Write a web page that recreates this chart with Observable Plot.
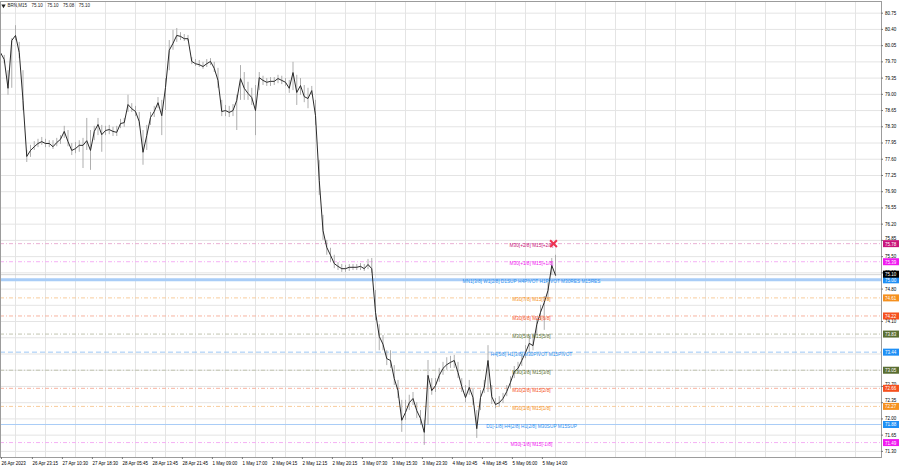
<!DOCTYPE html>
<html><head><meta charset="utf-8">
<script src="https://cdn.jsdelivr.net/npm/d3@7"></script>
<script src="https://cdn.jsdelivr.net/npm/@observablehq/plot@0.6"></script>
<style>
html,body{margin:0;padding:0;background:#fff;}
#chart{width:900px;height:468px;overflow:hidden;}
svg{display:block;}
</style>
</head><body><div id="chart"></div>
<script>
// ---------------- DATA ----------------
const symbol = "BRN,M15";
const lastQuote = ["75.10", "75.10", "75.08", "75.10"];
const lastPrice = 75.10;
const barsPerSample = 4; // each sample aggregates 4 M15 bars

const closes = [79.90,79.75,79.13,80.16,80.27,79.90,78.87,77.66,77.79,77.87,
77.94,77.98,77.94,77.94,77.87,77.96,78.03,78.20,77.98,77.79,
77.83,77.90,77.90,78.00,77.79,78.20,78.35,78.13,78.22,78.24,
78.20,78.18,78.37,78.39,78.78,78.69,78.63,78.41,77.75,78.11,
78.50,78.63,78.82,78.54,79.15,79.95,80.10,80.27,80.25,80.20,
80.20,79.71,79.66,79.64,79.60,79.66,79.71,79.56,79.30,78.63,
78.65,78.61,78.65,78.87,79.34,79.13,79.02,78.93,78.65,79.36,
79.30,79.26,79.28,79.28,79.34,79.30,79.26,79.13,79.47,79.04,
79.19,78.95,78.91,79.08,78.54,77.14,76.06,75.70,75.53,75.35,
75.29,75.24,75.24,75.27,75.27,75.27,75.29,75.24,75.33,75.24,
74.30,73.78,73.61,73.30,73.26,72.87,72.61,71.97,72.14,72.35,
72.44,72.18,72.01,71.71,72.94,72.61,72.72,72.94,73.09,73.17,
73.22,73.26,73.00,72.70,72.46,72.68,72.46,71.79,72.46,72.68,
73.26,72.48,72.31,72.35,72.44,72.59,72.79,73.02,73.09,73.26,
73.43,73.63,73.58,74.03,74.30,74.51,74.77,75.31,75.10];

const highs = [79.99,79.84,79.51,80.20,80.48,80.12,79.51,77.79,77.90,77.98,
78.03,78.07,78.03,78.00,78.00,78.05,78.11,78.31,78.22,77.94,
77.96,78.00,78.05,78.48,78.22,78.31,78.48,78.33,78.31,78.33,
78.29,78.31,78.46,78.48,78.98,78.80,78.74,78.61,78.22,78.33,
78.61,78.74,78.93,78.87,79.34,80.16,80.38,80.42,80.33,80.29,
80.27,79.79,79.75,79.73,79.69,79.75,79.77,79.69,79.56,78.87,
78.76,78.74,78.78,78.98,79.62,79.47,79.26,79.13,79.19,79.47,
79.39,79.34,79.36,79.36,79.41,79.39,79.34,79.30,79.69,79.41,
79.34,79.19,79.13,79.17,78.87,77.57,76.39,75.85,75.68,75.53,
75.37,75.33,75.31,75.33,75.33,75.33,75.35,75.33,75.44,75.46,
74.77,74.03,73.80,73.47,73.47,73.15,72.83,72.40,72.40,72.51,
72.57,72.35,72.18,71.97,73.26,72.87,72.87,73.09,73.22,73.32,
73.35,73.37,73.22,72.87,72.72,72.83,72.66,72.18,72.61,72.83,
73.58,72.72,72.44,72.48,72.55,72.72,72.91,73.13,73.22,73.39,
73.58,73.78,73.80,74.17,74.45,74.64,74.94,75.46,75.53];

const lows = [79.77,79.66,78.98,79.13,80.16,79.77,78.65,77.53,77.64,77.79,
77.85,77.90,77.85,77.85,77.81,77.87,77.92,78.05,77.87,77.68,
77.72,77.75,77.40,77.79,77.36,78.00,78.11,77.75,78.11,78.13,
78.09,78.09,78.26,78.29,78.61,78.61,78.52,78.31,77.47,77.79,
78.33,78.50,78.69,78.11,78.65,79.51,79.95,80.12,80.16,80.14,
80.14,79.64,79.60,79.58,79.54,79.58,79.62,79.47,79.13,78.52,
78.52,78.50,78.52,78.22,78.87,78.87,78.87,78.76,78.11,79.08,
79.19,79.17,79.17,79.19,79.23,79.21,79.17,79.02,79.08,78.76,
78.98,78.82,78.69,78.98,78.33,76.82,75.85,75.53,75.37,75.24,
75.20,75.16,75.16,75.18,75.20,75.20,75.20,75.18,75.22,75.14,
74.12,73.47,73.47,73.15,73.09,72.72,72.44,71.71,71.97,72.18,
72.29,72.01,71.86,71.43,71.86,72.51,72.57,72.79,72.94,73.05,
73.09,73.09,72.87,72.57,72.35,72.51,72.29,71.58,72.18,72.55,
72.57,72.31,72.22,72.25,72.33,72.48,72.66,72.87,72.98,73.13,
73.30,73.43,73.47,73.80,74.12,73.91,74.55,75.10,75.07];

const timeTickBars = [1,34,66,98,130,162,194,226,258,290,322,354,386,418,450,482,514,546,578];
const timeTickLabels = ["26 Apr 2023","26 Apr 23:15","27 Apr 10:30","27 Apr 18:30","28 Apr 05:45",
  "28 Apr 13:45","28 Apr 21:45","1 May 09:00","1 May 17:00","2 May 04:15","2 May 12:15",
  "2 May 20:15","3 May 07:30","3 May 15:30","3 May 23:30","4 May 10:45","4 May 18:45",
  "5 May 06:00","5 May 14:00"];
const gridBars = [16,48,80,112,144,176,208,240,272,304,336,368,400,432,464,496,528,560,592,624,656,688,720,752,784,816,848,880,912];

const priceGrid = [80.75,80.40,80.05,79.70,79.35,79.00,78.65,78.30,77.95,77.60,77.25,76.90,
  76.55,76.20,75.85,75.50,75.15,74.80,74.45,74.10,73.75,73.40,73.05,72.70,72.35,72.00,71.65,71.30];
const priceLabels = [80.75,80.40,80.05,79.70,79.35,79.00,78.65,78.30,77.95,77.60,77.25,76.90,
  76.55,76.20,75.85,75.50,75.15,74.80,74.10,72.70,72.35,72.00,71.65,71.30];

const levels = [75.78,75.39,75.00,74.61,74.22,73.83,73.44,73.05,72.66,72.27,71.88,71.49];
const levelOctaves = ["+2/8","+1/8","8/8","7/8","6/8","5/8","4/8","3/8","2/8","1/8","0/8","-1/8"];
const levelTexts = ["M30[+2/8] M15[+2/8]","M30[+1/8] M15[+1/8]",
  "MN1[3/8] W1[2/8] D1SUP H4PIVOT H1PIVOT M30RES M15RES",
  "M30[7/8] M15[7/8]","M30[6/8] M15[6/8]","M30[5/8] M15[5/8]",
  "H4[5/8] H1[3/8] M30PIVOT M15PIVOT",
  "M30[3/8] M15[3/8]","M30[2/8] M15[2/8]","M30[1/8] M15[1/8]",
  "D1[-1/8] H4[2/8] H1[2/8] M30SUP M15SUP","M30[-1/8] M15[-1/8]"];

// ---------------- STYLE ----------------
const STYLE = {
  "+2/8": {text: "#c8157a", line: "#eab0d4", box: "#c8157a", kind: "dashdot"},
  "+1/8": {text: "#f019f0", line: "#f5b0f5", box: "#f019f0", kind: "dashdot"},
  "8/8":  {text: "#2b8ff0", line: "#a9cdf7", box: "#1e8ff5", kind: "thick"},
  "7/8":  {text: "#f5901e", line: "#f8cc9c", box: "#f5901e", kind: "dashdot"},
  "6/8":  {text: "#f5501e", line: "#f7b4a0", box: "#f5501e", kind: "dashdot"},
  "5/8":  {text: "#5a6e32", line: "#c1c4b0", box: "#5a6e32", kind: "dashdot"},
  "4/8":  {text: "#2b8ff0", line: "#9dc8f5", box: "#1e8ff5", kind: "dashed"},
  "3/8":  {text: "#5a6e32", line: "#c1c4b0", box: "#5a6e32", kind: "dashdot"},
  "2/8":  {text: "#f5501e", line: "#f7b4a0", box: "#f5501e", kind: "dashdot"},
  "1/8":  {text: "#f5901e", line: "#f8cc9c", box: "#f5901e", kind: "dashdot"},
  "0/8":  {text: "#2b8ff0", line: "#a9cdf7", box: "#1e8ff5", kind: "solid"},
  "-1/8": {text: "#f019f0", line: "#f5b0f5", box: "#f019f0", kind: "dashdot"}
};
const W = 900, H = 468;
const BAR_PX = 0.9375;              // horizontal pixels per M15 bar
const idx = px => px / BAR_PX;      // pixel -> bar index helper for annotations
const FONT = "Liberation Sans, Arial, sans-serif";
const FS = 4.5;     // axis text
const FS_LVL = 4.75; // level annotation text

// ---------------- BUILD ----------------
const bars = closes.map((c, k) => ({bar: k * barsPerSample, close: c, high: highs[k], low: lows[k]}));
const levelData = levels.map((v, i) => ({value: v, octave: levelOctaves[i], text: levelTexts[i]}));
const byKind = k => levelData.filter(d => STYLE[d.octave].kind === k);
const tickLabel = new Map(timeTickBars.map((b, i) => [b, timeTickLabels[i]]));
// axis labels sitting right above a coloured price box are nudged up a little
const nearBox = v => levels.some(l => l < v && v - l < 0.09);

const chart = Plot.plot({
  width: W, height: H,
  marginLeft: 0, marginRight: 19, marginTop: 1, marginBottom: 11,
  x: {type: "linear", domain: [0, idx(881)], axis: null, label: null},
  y: {type: "linear", domain: [71.168, 81.002], axis: null, label: null},
  color: {type: "identity"},
  style: {fontFamily: FONT, fontSize: FS + "px", background: "#fff", overflow: "visible"},
  marks: [
    Plot.gridX(gridBars, {stroke: "#e4e4e4", strokeOpacity: 1}),
    Plot.gridY(priceGrid, {stroke: "#e4e4e4", strokeOpacity: 1}),
    Plot.ruleY(byKind("dashdot"), {y: "value", stroke: d => STYLE[d.octave].line, strokeWidth: 1, strokeDasharray: "4,2,1,2"}),
    Plot.ruleY(byKind("dashed"), {y: "value", stroke: d => STYLE[d.octave].line, strokeWidth: 1, strokeDasharray: "5,3"}),
    Plot.ruleY(byKind("solid"), {y: "value", stroke: d => STYLE[d.octave].line, strokeWidth: 1}),
    Plot.ruleY(byKind("thick"), {y: "value", stroke: d => STYLE[d.octave].line, strokeWidth: 3}),
    Plot.ruleY([lastPrice], {stroke: "#c9c9c9", strokeWidth: 0.8, dy: -0.5}),
    Plot.ruleX(bars, {x: "bar", y1: "low", y2: "high", stroke: "#a6a6a6", strokeWidth: 0.9}),
    Plot.line(bars, {x: "bar", y: "close", stroke: "#2a2a2a", strokeWidth: 1.0}),
    Plot.text(levelData, {x: idx(531), y: "value", text: "text", fill: d => STYLE[d.octave].text, dy: 2, fontSize: FS_LVL}),
    Plot.dot([levels[0]], {x: idx(553), y: d => d, symbol: "times", r: 3.2, stroke: "#ee3350", strokeWidth: 2}),
    Plot.frame({stroke: "#9c9c9c"}),
    Plot.axisX({ticks: timeTickBars, tickFormat: d => tickLabel.get(d), textAnchor: "start", tickSize: 2, tickPadding: 2, fontSize: FS, stroke: "#777", fill: "#000", label: null}),
    Plot.ruleY(priceLabels, {y: d => d, x1: idx(881), x2: idx(883), stroke: "#777", strokeWidth: 1}),
    Plot.text(priceLabels.filter(v => !nearBox(v)), {y: d => d, x: idx(884.5), text: d => d.toFixed(2), textAnchor: "start", fill: "#000", fontSize: FS}),
    Plot.text(priceLabels.filter(nearBox), {y: d => d, x: idx(884.5), text: d => d.toFixed(2), textAnchor: "start", fill: "#000", fontSize: FS, dy: -2.2}),
    Plot.ruleY(levelData, {y: "value", x1: idx(883), x2: idx(899), stroke: d => STYLE[d.octave].box, strokeWidth: 7}),
    Plot.text(levelData, {y: "value", x: idx(884.5), text: d => d.value.toFixed(2), fill: "#fff", textAnchor: "start", fontSize: FS, dy: 0.5}),
    Plot.ruleY([lastPrice], {x1: idx(883), x2: idx(899), stroke: "#000", strokeWidth: 7, dy: -1}),
    Plot.text([lastPrice], {y: d => d, x: idx(884.5), text: d => d.toFixed(2), fill: "#fff", textAnchor: "start", fontSize: FS, dy: -1}),
    Plot.dot([0], {x: idx(3), y: 80.91, symbol: "triangle", r: 1.6, fill: "#222", stroke: null, rotate: 180}),
    Plot.text([symbol + "\u2002\u2002" + lastQuote.join("\u2002\u2002")], {x: idx(7), y: 80.91, text: d => d, textAnchor: "start", fill: "#222", fontSize: FS})
  ]
});
document.getElementById("chart").appendChild(chart);
</script>
</body></html>
